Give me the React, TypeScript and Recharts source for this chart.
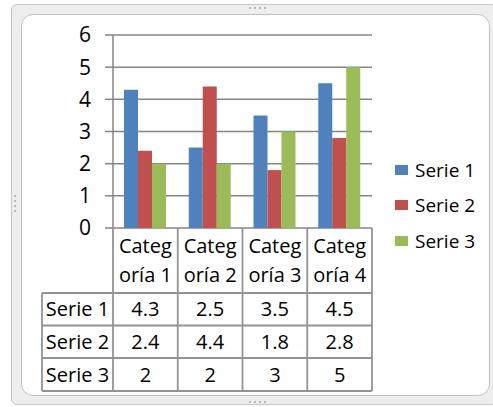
import { BarChart, Bar, XAxis, YAxis, CartesianGrid, Legend } from "recharts";

// data
const categories = ["Categoría 1", "Categoría 2", "Categoría 3", "Categoría 4"];
const serieNames = ["Serie 1", "Serie 2", "Serie 3"];
const serie1 = [4.3, 2.5, 3.5, 4.5];
const serie2 = [2.4, 4.4, 1.8, 2.8];
const serie3 = [2, 2, 3, 5];
const yTicks = [0, 1, 2, 3, 4, 5, 6];

const series = [serie1, serie2, serie3];
const colors = ["#4F81BD", "#C0504D", "#9BBB59"];

const W = 493;
const H = 407;
const plotLeft = 113;
const plotRight = 372;
const plotTop = 35;
const plotBottom = 228;
const yAxisW = 40;
const font = "'Open Sans', sans-serif";
const lineColor = "#858585";
const tableColor = "#939393";

// data table rows (header + one per series)
const tableLeft = 42;
const rowEdges = [228, 293, 325.5, 358, 391];

const data = categories.map((c, i) => {
  const row: Record<string, string | number> = { name: c };
  serieNames.forEach((s, j) => {
    row[s] = series[j][i];
  });
  return row;
});

function LegendBox({ payload }: any) {
  return (
    <div style={{ fontFamily: font, fontSize: 19, color: "#000" }}>
      {(payload || []).map((p: any) => (
        <div key={p.value} style={{ display: "flex", alignItems: "center", height: 35.5 }}>
          <span style={{ width: 13, height: 10, background: p.color, marginRight: 7, display: "inline-block" }} />
          <span>{p.value}</span>
        </div>
      ))}
    </div>
  );
}

function DataTable() {
  const band = (plotRight - plotLeft) / categories.length;
  const colEdges = [tableLeft, ...categories.map((_, i) => plotLeft + band * i), plotRight];
  const cellCenter = (i: number) => (colEdges[i] + colEdges[i + 1]) / 2;
  const textStyle = { fontFamily: font, fontSize: 20, fill: "#000" };
  return (
    <svg width={W} height={H} style={{ position: "absolute", left: 0, top: 0, pointerEvents: "none" }}>
      {/* vertical borders */}
      {colEdges.map((x, i) => (
        <line
          key={"v" + i}
          x1={x}
          x2={x}
          y1={i === 0 ? rowEdges[1] : rowEdges[0]}
          y2={rowEdges[rowEdges.length - 1]}
          stroke={tableColor}
          strokeWidth={1.8}
        />
      ))}
      {/* horizontal borders */}
      {rowEdges.slice(1).map((y, i) => (
        <line key={"h" + i} x1={tableLeft} x2={plotRight} y1={y} y2={y} stroke={tableColor} strokeWidth={1.8} />
      ))}
      {/* header: category names wrapped like Excel */}
      {categories.map((c, i) => (
        <text key={c} x={cellCenter(i + 1)} textAnchor="middle" style={textStyle}>
          <tspan x={cellCenter(i + 1)} y={rowEdges[0] + 25}>{c.slice(0, 5)}</tspan>
          <tspan x={cellCenter(i + 1)} y={rowEdges[0] + 54}>{c.slice(5)}</tspan>
        </text>
      ))}
      {/* series rows */}
      {serieNames.map((s, j) => {
        const cy = (rowEdges[j + 1] + rowEdges[j + 2]) / 2;
        return (
          <g key={s}>
            <text x={cellCenter(0)} y={cy} dy="0.35em" textAnchor="middle" style={textStyle}>
              {s}
            </text>
            {series[j].map((v, i) => (
              <text key={i} x={cellCenter(i + 1)} y={cy} dy="0.35em" textAnchor="middle" style={textStyle}>
                {String(v)}
              </text>
            ))}
          </g>
        );
      })}
    </svg>
  );
}

function Frame() {
  return (
    <>
      <div
        style={{
          position: "absolute",
          left: 11,
          top: 4,
          width: W - 11 + 4,
          height: 401,
          background: "#eeeeee",
          border: "1px solid #c6c6c6",
          borderRadius: 6,
          boxSizing: "border-box",
        }}
      />
      <div
        style={{
          position: "absolute",
          left: 21,
          top: 14,
          width: 469,
          height: 382,
          background: "#fff",
          border: "1px solid #c2c2c2",
          borderRadius: 12,
          boxSizing: "border-box",
        }}
      />
      {[0, 1, 2, 3].map((k) => (
        <div key={"t" + k} style={{ position: "absolute", left: 249 + k * 5, top: 7, width: 2, height: 2, background: "#b8b8b8" }} />
      ))}
      {[0, 1, 2, 3].map((k) => (
        <div key={"b" + k} style={{ position: "absolute", left: 249 + k * 5, top: 401, width: 2, height: 2, background: "#b8b8b8" }} />
      ))}
      {[0, 1, 2, 3].map((k) => (
        <div key={"l" + k} style={{ position: "absolute", left: 14, top: 195 + k * 5, width: 2, height: 2, background: "#b8b8b8" }} />
      ))}
    </>
  );
}

export default function App() {
  return (
    <div style={{ position: "absolute", left: 0, top: 0, width: W, height: H, background: "#fff", overflow: "hidden" }}>
      <Frame />
      <div style={{ position: "absolute", left: 0, top: 0 }}>
        <BarChart
          width={W}
          height={H}
          data={data}
          barGap={0}
          barCategoryGap="17%"
          margin={{ top: plotTop, right: W - plotRight, bottom: H - plotBottom, left: plotLeft - yAxisW }}
        >
          <CartesianGrid horizontal vertical={false} stroke={lineColor} strokeWidth={1.5} />
          <XAxis dataKey="name" hide />
          <YAxis
            width={yAxisW}
            domain={[0, 6]}
            ticks={yTicks}
            interval={0}
            tickSize={8}
            tickMargin={14}
            axisLine={{ stroke: lineColor, strokeWidth: 1.5 }}
            tickLine={{ stroke: lineColor, strokeWidth: 1.5 }}
            tick={{ fill: "#000", fontSize: 21, fontFamily: font }}
          />
          <Legend
            layout="vertical"
            align="center"
            verticalAlign="middle"
            content={LegendBox}
            wrapperStyle={{ left: 395, top: 152, width: 95 }}
          />
          {serieNames.map((s, i) => (
            <Bar key={s} dataKey={s} name={s} fill={colors[i]} isAnimationActive={false} />
          ))}
        </BarChart>
      </div>
      <DataTable />
    </div>
  );
}
